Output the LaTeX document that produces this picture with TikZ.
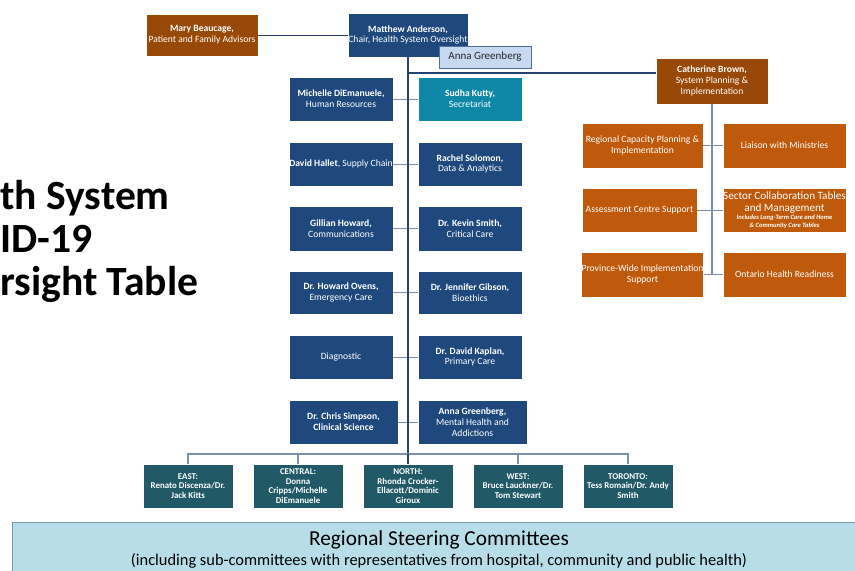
\documentclass[tikz,border=0pt]{standalone}
\usepackage{fontspec}
\setmainfont{Carlito}
\usetikzlibrary{positioning}
\definecolor{navy}{HTML}{1F497D}
\definecolor{navyline}{HTML}{24436F}
\definecolor{linkgray}{HTML}{7C90AC}
\definecolor{darkbrown}{HTML}{984807}
\definecolor{burnt}{HTML}{BF5A0C}
\definecolor{sectorteal}{HTML}{0E88A6}
\definecolor{regionteal}{HTML}{215967}
\definecolor{annafill}{HTML}{C6D9F1}
\definecolor{annaline}{HTML}{4F6E9B}
\definecolor{bannerfill}{HTML}{B7DEE8}
\definecolor{bannerline}{HTML}{7A9CA8}
\tikzset{
    sized/.style 2 args={minimum width=#1*0.03cm,minimum height=#2*0.03cm},
    box/.style={draw=white,line width=0.4pt,inner sep=0pt,align=center,text=white,
        font=\fontsize{8.2}{9.2}\selectfont},
    navybox/.style={box,fill=navy,sized={104}{44}},
    brownbox/.style={box,fill=darkbrown},
    orangebox/.style={box,fill=burnt},
    regionbox/.style={box,fill=regionteal,sized={90}{44},font=\bfseries\fontsize{7.6}{8.1}\selectfont},
    boxtext/.style={inner sep=0pt,align=center,text=white},
    link/.style={draw=linkgray,line width=0.8pt},
    trunk/.style={draw=navyline,line width=1pt},
    titletext/.style={anchor=base west,inner sep=0pt,font=\bfseries\fontsize{35.5}{36}\selectfont}
}

\begin{document}
\begin{tikzpicture}[x=0.03cm,y=-0.03cm]
\useasboundingbox (0,0) rectangle (855,571);
\clip (0,0) rectangle (855,571);
    % title (cut off at the left edge)
    \node[titletext] (title1) at (0,210) {th System};
    \node[titletext] (title2) at (0,253) {ID-19};
    \node[titletext] (title3) at (0,296) {rsight Table};

    % chair and advisors
    \node[navybox,sized={120}{44}] (matthew) at (408,35)
        {\textbf{Matthew Anderson,}\\Chair, Health System Oversight};
    \node[brownbox,sized={112}{42}] (mary) at (202,35)
        {\textbf{Mary Beaucage,}\\Patient and Family Advisors};
    \draw[link,draw=navyline] (mary.east) -- (matthew.west);

    % main trunk
    \coordinate (top)    at (408,57);
    \coordinate (cbjoin) at (408,73);
    \coordinate (bottom) at (408,454);
    \draw[trunk] (top) -- (bottom);

    % table members
    \node[navybox] (michelle) at (341,99)
        {\textbf{Michelle DiEmanuele,}\\Human Resources};
    \node[navybox,fill=sectorteal] (sudha) at (470,99)
        {\textbf{Sudha Kutty,}\\Secretariat};
    \node[navybox] (david) at (341,164)
        {\textbf{David Hallet}, Supply Chain};
    \node[navybox] (rachel) at (470,164)
        {\textbf{Rachel Solomon,}\\Data \& Analytics};
    \node[navybox,sized={104}{45}] (gillian) at (341,228.5)
        {\textbf{Gillian Howard,}\\Communications};
    \node[navybox,sized={104}{45}] (kevin) at (470,228.5)
        {\textbf{Dr. Kevin Smith,}\\Critical Care};
    \node[navybox,sized={104}{43}] (howard) at (341,292.5)
        {\textbf{Dr. Howard Ovens,}\\Emergency Care};
    \node[navybox,sized={104}{43}] (jennifer) at (470,292.5)
        {\textbf{Dr. Jennifer Gibson,}\\Bioethics};
    \node[navybox] (diagnostic) at (341,357)
        {Diagnostic};
    \node[navybox] (kaplan) at (470,357)
        {\textbf{Dr. David Kaplan,}\\Primary Care};
    \node[navybox,sized={109}{44}] (chris) at (343.5,422)
        {\textbf{Dr. Chris Simpson,}\\\textbf{Clinical Science}};
    \node[navybox,sized={109}{44}] (anna) at (472.5,422)
        {\textbf{Anna Greenberg,}\\Mental Health and\\Addictions};
    \path[link]
        (michelle.east) edge (sudha.west)
        (david.east) edge (rachel.west)
        (gillian.east) edge (kevin.west)
        (howard.east) edge (jennifer.west)
        (diagnostic.east) edge (kaplan.west)
        (chris.east) edge (anna.west);
    \draw[trunk] (top) -- (bottom);

    \node[fill=annafill,draw=annaline,line width=0.6pt,inner sep=0pt,sized={92}{22},
        font=\fontsize{9.4}{10}\selectfont,text=black!85] (annalabel) at (485,57)
        {Anna Greenberg};

    % system planning branch
    \node[brownbox,sized={112}{46}] (catherine) at (712,81)
        {\textbf{Catherine Brown,}\\System Planning \&\\Implementation};
    \draw[trunk] (cbjoin) -- (cbjoin -| catherine.west);
    \node[orangebox,sized={121}{45}] (capacity) at (642.5,145.5)
        {Regional Capacity Planning \&\\Implementation};
    \node[orangebox,sized={123}{45}] (liaison) at (784.5,145.5)
        {Liaison with Ministries};
    \node[orangebox,sized={115}{44}] (assessment) at (639.5,210)
        {Assessment Centre Support};
    \node[orangebox,sized={123}{44}] (sector) at (784.5,210) {};
    \node[boxtext,font=\fontsize{9.5}{9.6}\selectfont,anchor=north] (sectortitle)
        at ([yshift=-3.5pt]sector.north) {Sector Collaboration Tables\\and Management};
    \node[boxtext,font=\bfseries\itshape\fontsize{5.6}{6.8}\selectfont,anchor=north] (sectornote)
        at ([yshift=-1.5pt]sectortitle.south) {Includes Long-Term Care and Home\\\& Community Care Tables};
    \node[orangebox,sized={121}{45}] (province) at (642.5,274.5)
        {Province-Wide Implementation\\Support};
    \node[orangebox,sized={123}{45}] (readiness) at (784.5,274.5)
        {Ontario Health Readiness};
    \coordinate (cbend) at (catherine.south |- readiness.west);
    \draw[link,line width=1pt] (catherine.south) -- (cbend);
    \path[link]
        (capacity.east) edge (liaison.west)
        (assessment.east) edge (sector.west)
        (province.east) edge (readiness.west);

    % regional tables
    \node[regionbox] (east) at (188,486)
        {EAST:\\Renato Discenza/Dr.\\Jack Kitts};
    \node[regionbox] (central) at (298,486)
        {CENTRAL:\\Donna\\Cripps/Michelle\\DiEmanuele};
    \node[regionbox] (north) at (408,486)
        {NORTH:\\Rhonda Crocker-\\Ellacott/Dominic\\Giroux};
    \node[regionbox] (west) at (518,486)
        {WEST:\\Bruce Lauckner/Dr.\\Tom Stewart};
    \node[regionbox] (toronto) at (628,486)
        {TORONTO:\\Tess Romain/Dr. Andy\\Smith};
    \draw[link,line width=1pt] (east.north) |- (bottom) -| (toronto.north);
    \foreach \reg in {central,west}
        \draw[link,line width=1pt] (\reg.north) -- (\reg.north |- bottom);
    \draw[trunk] (bottom) -- (north.north);

    % steering committees banner
    \node[fill=bannerfill,draw=bannerline,line width=0.8pt,inner sep=0pt,sized={868}{78}]
        (banner) at (446,561) {};
    \node[anchor=base,inner sep=0pt,font=\fontsize{18.2}{20}\selectfont] (bannertitle)
        at (439,546) {Regional Steering Committees};
    \node[anchor=base,inner sep=0pt,font=\fontsize{14}{16}\selectfont] (bannernote)
        at (439,566) {(including sub-committees with representatives from hospital, community and public health)};
\end{tikzpicture}
\end{document}
